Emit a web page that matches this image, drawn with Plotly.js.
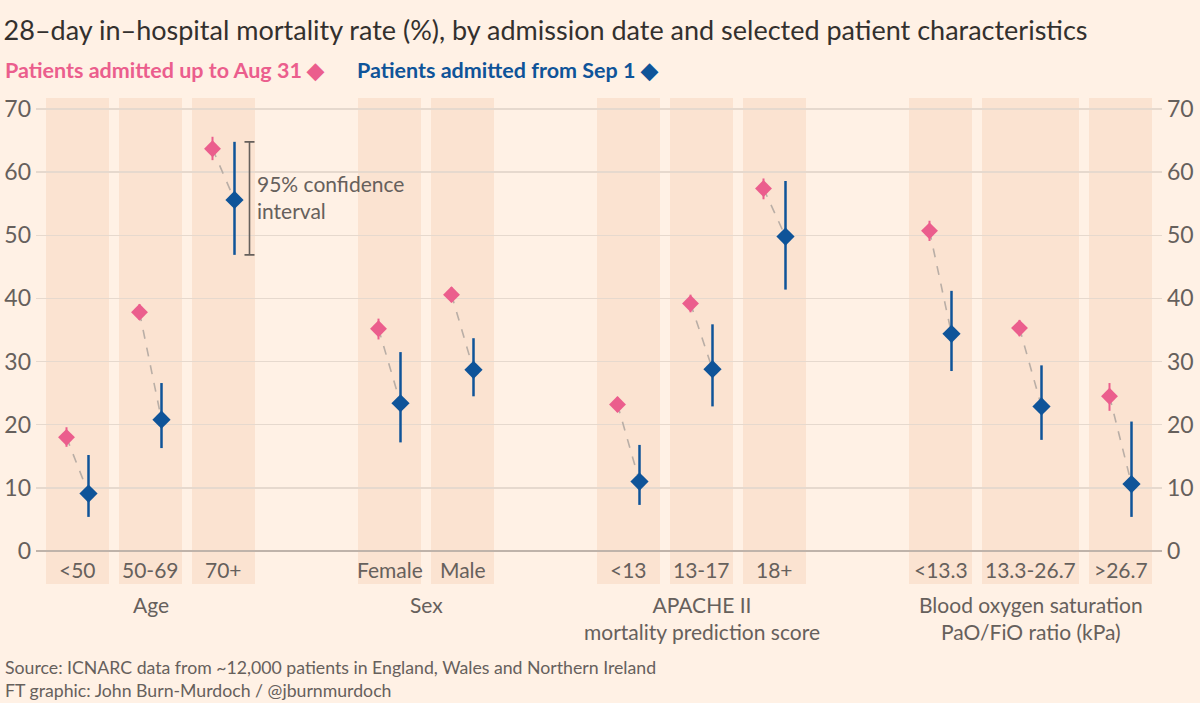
<!DOCTYPE html>
<html>
<head>
<meta charset="utf-8">
<script src="https://cdn.plot.ly/plotly-3.0.1.min.js"></script>
<style>html,body{margin:0;padding:0;background:#FFF1E5;}#chart{width:1200px;height:703px;}</style>
</head>
<body>
<div id="chart"></div>
<script>
// ---- Data ----
const groupNames = ['Age', 'Sex', 'APACHE II<br>mortality prediction score', 'Blood oxygen saturation<br>PaO/FiO ratio (kPa)'];
const groupCategories = [
  ['<50', '50-69', '70+'],
  ['Female', 'Male'],
  ['<13', '13-17', '18+'],
  ['<13.3', '13.3-26.7', '>26.7']
];
// Patients admitted up to Aug 31
const earlyRate  = [18.0, 37.8, 63.7, 35.2, 40.6, 23.2, 39.2, 57.4, 50.7, 35.3, 24.5];
const earlyUpper = [19.6, 39.1, 65.6, 36.8, 41.8, 24.4, 40.6, 59.0, 52.3, 36.6, 26.6];
const earlyLower = [16.5, 36.6, 61.9, 33.5, 39.4, 22.0, 37.8, 55.7, 49.1, 34.0, 22.2];
// Patients admitted from Sep 1
const lateRate  = [9.1, 20.8, 55.6, 23.4, 28.7, 11.0, 28.8, 49.8, 34.4, 22.9, 10.6];
const lateUpper = [15.2, 26.6, 64.8, 31.5, 33.7, 16.8, 35.9, 58.6, 41.2, 29.4, 20.5];
const lateLower = [5.4, 16.3, 46.9, 17.2, 24.5, 7.3, 22.9, 41.4, 28.5, 17.6, 5.4];
const yTicks = [0, 10, 20, 30, 40, 50, 60, 70];

// ---- Layout helpers (pixel-like x units) ----
const PINK = '#EB5E8D', BLUE = '#0F5499', GREY = '#66605C';
const FONT = 'Lato, "Open Sans", sans-serif';
const colW = 63, colWide = 97, colGap = 10, groupGap = 103, startX = 46;
const PL = 36, PR = 1162, PT = 98, PB = 584;
const Y0PX = 551, PXPERUNIT = 442 / 70;
const py2y = p => (Y0PX - p) / PXPERUNIT;
const px2paper = p => (p - PL) / (PR - PL);
const py2paper = p => (PB - p) / (PB - PT);

const cats = [], centers = [], bands = [], groupCenters = [];
let cx = startX;
groupCategories.forEach((g, gi) => {
  const gStart = cx;
  g.forEach((c, ci) => {
    const w = c.length > 6 ? colWide : colW;
    cats.push(c);
    centers.push(cx + w / 2);
    bands.push([cx, cx + w]);
    cx += w + (ci < g.length - 1 ? colGap : 0);
  });
  groupCenters.push((gStart + cx) / 2);
  cx += groupGap;
});
const off = 11;
const xEarly = centers.map(c => c - off);
const xLate = centers.map(c => c + off);

// connectors
const cx2 = [], cy2 = [];
centers.forEach((c, i) => { cx2.push(xEarly[i], xLate[i], null); cy2.push(earlyRate[i], lateRate[i], null); });

const traces = [
  { x: cx2, y: cy2, mode: 'lines', line: { color: '#B9AEA6', width: 1.6, dash: 'dash' }, hoverinfo: 'skip', showlegend: false },
  { x: xEarly, y: earlyRate, mode: 'markers', name: 'Patients admitted up to Aug 31',
    marker: { symbol: 'diamond', size: 13, color: PINK },
    error_y: { type: 'data', symmetric: false, array: earlyUpper.map((u, i) => u - earlyRate[i]), arrayminus: earlyRate.map((v, i) => v - earlyLower[i]), color: PINK, thickness: 2, width: 0 },
    showlegend: false },
  { x: xLate, y: lateRate, mode: 'markers', name: 'Patients admitted from Sep 1',
    marker: { symbol: 'diamond', size: 14, color: BLUE },
    error_y: { type: 'data', symmetric: false, array: lateUpper.map((u, i) => u - lateRate[i]), arrayminus: lateRate.map((v, i) => v - lateLower[i]), color: BLUE, thickness: 2.5, width: 0 },
    showlegend: false },
  // 95% CI key bracket, mirrors the 70+ interval
  { x: [xLate[2] + 15], y: [lateRate[2]], mode: 'markers', marker: { size: 1, opacity: 0 },
    error_y: { type: 'data', symmetric: false, array: [lateUpper[2] - lateRate[2]], arrayminus: [lateRate[2] - lateLower[2]], color: GREY, thickness: 1.6, width: 5 },
    hoverinfo: 'skip', showlegend: false },
  { x: [xLate[0]], y: [0], yaxis: 'y2', mode: 'markers', marker: { opacity: 0 }, hoverinfo: 'skip', showlegend: false }
];

const shapes = bands.map(b => ({ type: 'rect', xref: 'x', yref: 'paper', x0: b[0], x1: b[1], y0: 0, y1: 1,
  fillcolor: '#FBE3D1', line: { width: 0 }, layer: 'below' }));

const esc = s => s.replace(/</g, '&lt;').replace(/>/g, '&gt;');
const annotations = [];
cats.forEach((c, i) => annotations.push({ x: centers[i], y: py2y(569), xref: 'x', yref: 'y', text: esc(c),
  showarrow: false, font: { family: FONT, size: 21, color: GREY }, xanchor: 'center', yanchor: 'middle' }));
groupNames.forEach((g, i) => annotations.push({ x: px2paper(groupCenters[i]), y: py2paper(590), xref: 'paper', yref: 'paper', text: g,
  showarrow: false, font: { family: FONT, size: 21, color: GREY }, xanchor: 'center', yanchor: 'top', align: 'center' }));
annotations.push({ x: xLate[2] + 20, y: lateRate[2] + 0.5, xref: 'x', yref: 'y', text: '95% confidence<br>interval',
  showarrow: false, font: { family: FONT, size: 21, color: GREY }, xanchor: 'left', yanchor: 'middle', align: 'left' });
// legend line
annotations.push({ x: px2paper(3), y: py2paper(70), xref: 'paper', yref: 'paper', text: '<b>Patients admitted up to Aug 31 ◆</b>', showarrow: false,
  font: { family: FONT, size: 21.5, color: PINK }, xanchor: 'left', yanchor: 'middle' });
annotations.push({ x: px2paper(355), y: py2paper(70), xref: 'paper', yref: 'paper', text: '<b>Patients admitted from Sep 1 ◆</b>', showarrow: false,
  font: { family: FONT, size: 21.5, color: BLUE }, xanchor: 'left', yanchor: 'middle' });
// source
annotations.push({ x: px2paper(3), y: py2paper(679), xref: 'paper', yref: 'paper', text: 'Source: ICNARC data from ~12,000 patients in England, Wales and Northern Ireland<br>FT graphic: John Burn-Murdoch / @jburnmurdoch',
  showarrow: false, font: { family: FONT, size: 17.7, color: GREY }, xanchor: 'left', yanchor: 'middle', align: 'left' });

const yRange = [py2y(PB), py2y(PT)];
const layout = {
  width: 1200, height: 703,
  paper_bgcolor: '#FFF1E5', plot_bgcolor: '#FFF1E5',
  margin: { l: PL, r: 1200 - PR, t: PT, b: 703 - PB, pad: 0 },
  title: { text: '28–day in–hospital mortality rate (%), by admission date and selected patient characteristics',
    x: 0.003, xanchor: 'left', xref: 'container', y: 1 - 31 / 703, yanchor: 'middle', yref: 'container',
    font: { family: FONT, size: 27, color: '#33302E' } },
  xaxis: { range: [PL, PR], showgrid: false, zeroline: false, showticklabels: false, showline: false, fixedrange: true },
  yaxis: { range: yRange, tickvals: yTicks, showgrid: true, gridcolor: '#E6D9CE', gridwidth: 1.5, zeroline: true,
    zerolinecolor: '#BFB3AA', zerolinewidth: 1.5, showline: false, ticks: '', ticklabelstandoff: 4,
    tickfont: { family: FONT, size: 23, color: GREY }, fixedrange: true },
  yaxis2: { range: yRange, tickvals: yTicks, overlaying: 'y', side: 'right', showgrid: false, zeroline: false,
    showline: false, ticks: '', ticklabelstandoff: 4, tickfont: { family: FONT, size: 23, color: GREY }, fixedrange: true },
  shapes: shapes,
  annotations: annotations,
  showlegend: false,
  hovermode: false
};
Plotly.newPlot('chart', traces, layout, { displayModeBar: false, staticPlot: true });
</script>
</body>
</html>
